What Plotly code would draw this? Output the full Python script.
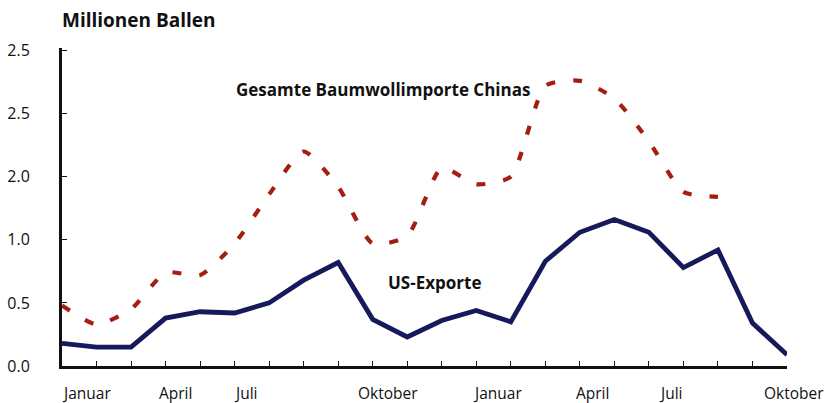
import plotly.graph_objects as go

# Data (monthly, Januar year 1 = index 0 ... Oktober year 2 = index 21)
months_us = list(range(22))
us_exports = [0.18, 0.15, 0.15, 0.38, 0.43, 0.42, 0.50, 0.68, 0.82, 0.37, 0.23,
              0.36, 0.44, 0.35, 0.83, 1.06, 1.16, 1.06, 0.78, 0.92, 0.34, 0.09]
months_cn = list(range(20))
china_imports = [0.48, 0.33, 0.45, 0.74, 0.72, 0.97, 1.36, 1.70, 1.42, 0.97,
                 1.03, 1.57, 1.44, 1.50, 2.22, 2.26, 2.12, 1.78, 1.38, 1.34]

x_label_months = [0, 3, 6, 9, 12, 15, 18, 21]
x_label_text = ["Januar", "April", "Juli", "Oktober", "Januar", "April", "Juli", "Oktober"]
x_label_shift = [24, 10, -23, 15, 21, 13, -12, 7]

y_tickvals = [0, 0.5, 1.0, 1.5, 2.0, 2.5]
y_ticktext = ["0.0", "0.5", "1.0", "2.0", "2.5", "2.5"]

RED = "#a51d12"
BLUE = "#16195a"
FONT = "Open Sans"

fig = go.Figure()
fig.add_trace(go.Scatter(
    x=months_cn, y=china_imports, mode="lines",
    line=dict(color=RED, width=4.2, dash="9px,18px", shape="spline", smoothing=0.6),
    showlegend=False, hoverinfo="skip"))
fig.add_trace(go.Scatter(
    x=months_us, y=us_exports, mode="lines",
    line=dict(color=BLUE, width=4.8),
    showlegend=False, hoverinfo="skip"))

fig.update_layout(
    width=835, height=403,
    margin=dict(l=62, r=48, t=48, b=37, autoexpand=False),
    paper_bgcolor="white", plot_bgcolor="white",
    hovermode=False,
    font=dict(family=FONT, size=15, color="#111111"),
    xaxis=dict(range=[0, 21], showgrid=False, zeroline=False, automargin=False,
               showline=True, linecolor="#111111", linewidth=3,
               tickmode="linear", tick0=0, dtick=1, ticks="inside",
               ticklen=5, tickwidth=1.2, tickcolor="#111111",
               showticklabels=False),
    yaxis=dict(range=[0, 2.52], showgrid=False, zeroline=False, automargin=False,
               showline=True, linecolor="#111111", linewidth=3,
               tickmode="array", tickvals=y_tickvals, ticktext=y_ticktext,
               ticks="inside", ticklen=5, tickwidth=1.2, tickcolor="#111111",
               ticklabelstandoff=26,
               tickfont=dict(family=FONT, size=16, color="#111111")),
)

annotations = []
for m, t, s in zip(x_label_months, x_label_text, x_label_shift):
    annotations.append(dict(x=m, y=0, xref="x", yref="paper", text=t,
                            showarrow=False, xanchor="center", yanchor="middle",
                            xshift=s, yshift=-27,
                            font=dict(family=FONT, size=15.5, color="#111111")))
annotations.append(dict(x=0, y=1, xref="paper", yref="paper",
                        text="<b>Millionen Ballen</b>", showarrow=False,
                        xanchor="left", yanchor="middle", yshift=28, xshift=-2,
                        font=dict(family=FONT, size=19, color="#111111")))
annotations.append(dict(x=9.29, y=2.19, xref="x", yref="y",
                        text="<b>Gesamte Baumwollimporte Chinas</b>", showarrow=False,
                        xanchor="center", yanchor="middle",
                        font=dict(family=FONT, size=17, color="#111111")))
annotations.append(dict(x=10.8, y=0.66, xref="x", yref="y",
                        text="<b>US-Exporte</b>", showarrow=False,
                        xanchor="center", yanchor="middle",
                        font=dict(family=FONT, size=17, color="#111111")))
fig.update_layout(annotations=annotations)

fig.write_html("out.html", config={"displayModeBar": False},
               post_script="document.body.style.margin='0';")
